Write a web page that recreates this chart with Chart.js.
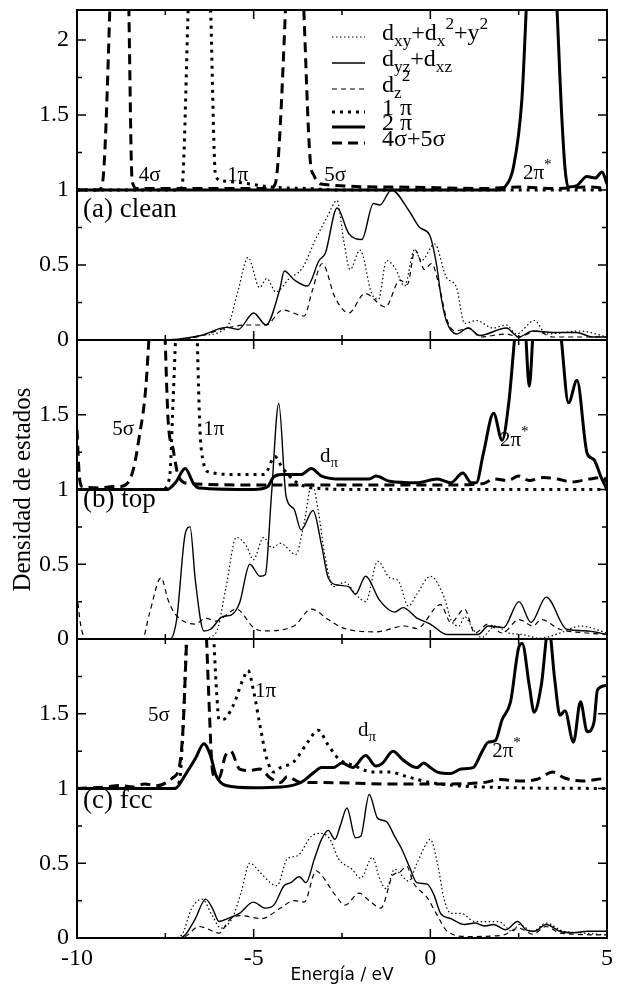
<!DOCTYPE html>
<html>
<head>
<meta charset="utf-8">
<script src="https://cdn.jsdelivr.net/npm/chart.js@4.4.1/dist/chart.umd.min.js"></script>
<style>
  html, body { margin: 0; padding: 0; background: #fff; }
  #wrap { position: relative; width: 617px; height: 988px; }
  #wrap canvas { position: absolute; left: 0; top: 0; }
</style>
</head>
<body>
<div id="wrap">
  <canvas id="pA" width="617" height="988"></canvas>
  <canvas id="pB" width="617" height="988"></canvas>
  <canvas id="pC" width="617" height="988"></canvas>
</div>
<script>
// tick labels
const energyTicks = [-10, -5, 0, 5];
const dosTicksTop = [0, 0.5, 1, 1.5, 2];
const dosTicks = [0, 0.5, 1, 1.5];

// (a) clean -- d states of the metal atom  [energy eV, DOS]
const cleanDxy = [[-10,0],[-7.5,0],[-7.0,0.005],[-6.5,0.03],[-5.76,0.084],[-5.44,0.33],[-5.16,0.55],[-4.83,0.35],[-4.63,0.41],[-4.37,0.32],[-3.99,0.41],[-3.62,0.48],[-3.25,0.67],[-2.92,0.82],[-2.64,0.93],[-2.45,0.66],[-2.27,0.47],[-1.99,0.6],[-1.66,0.31],[-1.47,0.27],[-1.24,0.53],[-1.0,0.48],[-0.73,0.36],[-0.45,0.6],[-0.25,0.53],[0.12,0.64],[0.45,0.42],[0.74,0.35],[0.97,0.11],[1.3,0.13],[1.77,0.08],[2.15,0.1],[2.43,0.04],[2.95,0.13],[3.28,0.04],[4.23,0.06],[5,0.02]];
const cleanDyz = [[-10,0],[-7.5,0],[-7.0,0.01],[-6.5,0.03],[-5.76,0.084],[-5.44,0.07],[-5.0,0.18],[-4.65,0.1],[-4.27,0.33],[-4.13,0.46],[-3.85,0.4],[-3.48,0.36],[-3.15,0.53],[-2.97,0.58],[-2.64,0.88],[-2.31,0.71],[-1.94,0.67],[-1.61,0.91],[-1.43,0.9],[-1.1,1.0],[-0.6,0.86],[-0.3,0.75],[-0.02,0.7],[0.17,0.51],[0.31,0.28],[0.45,0.13],[0.74,0.04],[1.07,0.08],[1.4,0.03],[2.15,0.08],[2.5,0.02],[2.9,0.06],[3.47,0.05],[4.13,0.05],[4.6,0.02],[5,0.02]];
const cleanDz2 = [[-10,0],[-7.5,0],[-6.8,0.01],[-5.76,0.08],[-5.2,0.1],[-4.65,0.1],[-4.18,0.2],[-3.57,0.16],[-3.34,0.33],[-3.06,0.51],[-2.69,0.28],[-2.31,0.18],[-1.85,0.31],[-1.27,0.22],[-0.86,0.4],[-0.65,0.37],[-0.43,0.6],[-0.16,0.47],[0.03,0.51],[0.26,0.35],[0.45,0.15],[0.69,0.06],[1.11,0.08],[1.4,0.02],[2.15,0.04],[2.5,0.02],[3.0,0.06],[3.47,0.02],[5,0.02]];
// (a) clean -- CO orbitals, drawn on the +1 baseline
const clean1pi = [[-10,1],[-7.15,1],[-7.03,1.02],[-6.84,2.3],[-6.55,4.0],[-6.23,2.3],[-6.08,1.1],[-5.9,1.06],[-5.4,1.05],[-4.5,1.02],[-3.5,1.01],[-2.5,1.0],[5,1.0]];
const clean2pi = [[-10,1],[2.0,1.0],[2.11,1.02],[2.35,1.15],[2.59,1.6],[2.8,2.6],[3.15,3.2],[3.5,2.6],[3.72,1.49],[3.81,1.15],[3.9,1.02],[4.15,1.03],[4.43,1.09],[4.67,1.08],[4.86,1.12],[5.0,1.04]];
const clean4s5s = [[-10,1],[-9.4,1.0],[-9.29,1.03],[-9.06,2.3],[-8.8,5],[-8.54,2.3],[-8.44,1.06],[-8.3,1.01],[-4.55,1.01],[-4.39,1.04],[-4.1,2.2],[-3.85,4],[-3.58,2.2],[-3.4,1.2],[-3.3,1.1],[-3.1,1.04],[-1.0,1.02],[1.5,1.01],[2.5,1.02],[3.5,1.01],[4.5,1.02],[5,1.01]];

// (b) top
const topDxy = [[-10,0],[-6.5,0],[-6.07,0.04],[-5.78,0.35],[-5.49,0.68],[-5.2,0.62],[-5.01,0.53],[-4.72,0.68],[-4.48,0.61],[-4.24,0.64],[-3.81,0.565],[-3.57,0.78],[-3.35,1.04],[-3.18,0.87],[-2.99,0.565],[-2.75,0.35],[-2.41,0.38],[-2.12,0.3],[-1.83,0.25],[-1.49,0.52],[-1.15,0.41],[-0.91,0.39],[-0.62,0.22],[-0.38,0.3],[0.0,0.42],[0.39,0.28],[0.58,0.13],[0.82,0.087],[0.97,0.15],[1.21,0.065],[1.45,0.01],[1.84,0.087],[2.22,0.04],[2.61,0.03],[3.1,0.005],[3.67,0.04],[4.25,0.087],[5,0.04]];
const topDyz = [[-10,0],[-7.37,0],[-7.18,0.13],[-6.94,0.7],[-6.8,0.75],[-6.65,0.39],[-6.41,0.054],[-6.22,0.065],[-5.88,0.15],[-5.64,0.16],[-5.4,0.24],[-5.11,0.5],[-4.82,0.42],[-4.67,0.43],[-4.5,0.95],[-4.29,1.575],[-4.08,0.95],[-3.86,0.87],[-3.66,0.73],[-3.32,0.86],[-3.08,0.63],[-2.89,0.41],[-2.6,0.36],[-2.31,0.35],[-2.12,0.3],[-1.83,0.42],[-1.44,0.26],[-1.01,0.18],[-0.77,0.21],[-0.38,0.14],[0.0,0.1],[0.48,0.03],[1.35,0.03],[1.64,0.087],[2.07,0.076],[2.51,0.25],[2.85,0.11],[3.28,0.28],[3.86,0.065],[4.44,0.054],[5,0.03]];
const topDz2 = [[-10,0.3],[-9.9,0.1],[-9.75,0],[-8.15,0],[-7.95,0.17],[-7.62,0.41],[-7.42,0.26],[-7.23,0.17],[-6.65,0.1],[-6.36,0.14],[-6.07,0.12],[-5.49,0.2],[-5.0,0.076],[-4.72,0.054],[-3.86,0.087],[-3.37,0.2],[-2.89,0.13],[-2.5,0.076],[-1.54,0.048],[-0.72,0.087],[-0.38,0.07],[0.29,0.23],[0.58,0.11],[0.97,0.2],[1.26,0.04],[1.64,0.1],[2.03,0.04],[2.51,0.13],[2.9,0.087],[3.14,0.13],[3.67,0.065],[4.44,0.04],[5,0.03]];
const top1pi = [[-10,1],[-7.6,1.0],[-7.38,1.08],[-7.28,1.6],[-7.18,2.2],[-6.9,4],[-6.62,2.2],[-6.52,1.4],[-6.42,1.18],[-6.3,1.12],[-5.5,1.1],[-4.7,1.1],[-4.4,1.22],[-4.2,1.15],[-3.8,1.05],[-3.3,1.01],[-2,1.0],[5,1.0]];
const top2pi = [[-10,1.0],[-7.45,1.0],[-7.2,1.05],[-6.94,1.14],[-6.7,1.04],[-6.55,1.01],[-5,1.0],[-4.6,1.02],[-4.45,1.08],[-4.2,1.1],[-3.66,1.1],[-3.37,1.14],[-3.08,1.09],[-2.5,1.07],[-1.73,1.07],[-1.54,1.09],[-1.15,1.055],[-0.38,1.045],[0.2,1.07],[0.58,1.045],[0.92,1.11],[1.16,1.045],[1.3,1.045],[1.5,1.24],[1.79,1.51],[2.03,1.33],[2.22,1.58],[2.37,1.97],[2.5,2.3],[2.68,2.1],[2.8,1.69],[2.92,2.1],[3.2,2.8],[3.5,2.5],[3.71,2.0],[3.91,1.58],[4.15,1.73],[4.44,1.24],[4.63,1.2],[4.82,1.09],[5,1.0]];
const top4s5s = [[-10,1.4],[-9.93,1.08],[-9.85,1.02],[-9.3,1.01],[-9.0,1.02],[-8.8,1.02],[-8.58,1.04],[-8.4,1.14],[-8.24,1.35],[-8.05,1.69],[-7.9,2.3],[-7.75,3],[-7.55,2.3],[-7.42,1.46],[-7.28,1.27],[-7.13,1.09],[-6.84,1.04],[-4.6,1.03],[-3,1.03],[-1,1.03],[0.5,1.03],[1.5,1.04],[1.8,1.07],[2.2,1.06],[2.5,1.09],[2.8,1.06],[3.2,1.08],[3.6,1.07],[4.0,1.05],[4.5,1.07],[4.9,1.08],[5,1.05]];

// (c) fcc
const fccDxy = [[-10,0],[-7.3,0],[-7.04,0.02],[-6.75,0.2],[-6.46,0.26],[-6.17,0.15],[-5.93,0.066],[-5.59,0.14],[-5.35,0.31],[-5.11,0.5],[-4.82,0.44],[-4.53,0.37],[-4.34,0.35],[-4.05,0.53],[-3.76,0.55],[-3.37,0.68],[-3.08,0.7],[-2.84,0.66],[-2.6,0.53],[-2.22,0.46],[-1.97,0.4],[-1.64,0.54],[-1.44,0.4],[-1.25,0.33],[-1.01,0.46],[-0.82,0.42],[-0.62,0.38],[-0.38,0.5],[-0.09,0.64],[0,0.66],[0.2,0.5],[0.39,0.26],[0.58,0.165],[0.87,0.165],[1.26,0.11],[1.55,0.11],[1.93,0.11],[2.32,0.045],[2.51,0.09],[2.9,0.045],[3.28,0.1],[3.76,0.045],[4.25,0.035],[5,0.02]];
const fccDyz = [[-10,0],[-7.5,0],[-7.13,0],[-6.94,0.02],[-6.65,0.13],[-6.36,0.26],[-6.17,0.2],[-5.98,0.11],[-5.74,0.13],[-5.4,0.165],[-5.01,0.24],[-4.67,0.2],[-4.43,0.22],[-4.14,0.35],[-3.95,0.37],[-3.71,0.41],[-3.52,0.37],[-3.28,0.53],[-3.08,0.66],[-2.89,0.72],[-2.7,0.66],[-2.55,0.75],[-2.36,0.87],[-2.12,0.67],[-1.97,0.68],[-1.73,0.96],[-1.49,0.8],[-1.25,0.78],[-1.01,0.68],[-0.82,0.6],[-0.58,0.47],[-0.38,0.37],[-0.09,0.36],[0.1,0.29],[0.29,0.165],[0.58,0.13],[0.97,0.09],[1.26,0.1],[1.55,0.08],[1.79,0.09],[2.13,0.055],[2.47,0.11],[2.71,0.055],[2.94,0.045],[3.28,0.09],[3.67,0.045],[4.05,0.035],[4.44,0.045],[5,0.045]];
const fccDz2 = [[-10,0],[-7.3,0],[-6.94,0.01],[-6.55,0.077],[-6.36,0.066],[-5.98,0.033],[-5.69,0.12],[-5.4,0.15],[-4.77,0.13],[-4.24,0.2],[-3.86,0.25],[-3.57,0.24],[-3.23,0.45],[-3.08,0.42],[-2.7,0.29],[-2.41,0.22],[-2.02,0.3],[-1.73,0.25],[-1.4,0.2],[-1.06,0.42],[-0.87,0.44],[-0.67,0.48],[-0.48,0.37],[-0.09,0.27],[0.2,0.15],[0.48,0.044],[1.06,0.01],[2.03,0.018],[2.51,0.066],[2.9,0.026],[3.28,0.077],[3.67,0.033],[5,0.02]];
const fcc1pi = [[-10,1],[-7.3,1.0],[-7.1,1.05],[-7.0,1.4],[-6.88,2.1],[-6.5,3.5],[-6.15,2.1],[-6.05,1.65],[-5.98,1.46],[-5.88,1.46],[-5.59,1.55],[-5.3,1.73],[-5.16,1.79],[-5.01,1.66],[-4.82,1.42],[-4.63,1.2],[-4.43,1.11],[-4.24,1.14],[-3.86,1.18],[-3.47,1.31],[-3.18,1.39],[-2.89,1.29],[-2.6,1.2],[-2.12,1.15],[-1.64,1.11],[-1.15,1.11],[-0.67,1.08],[0,1.04],[1.5,1.01],[5,1.0]];
const fcc2pi = [[-10,1.0],[-7.23,1.0],[-6.94,1.09],[-6.65,1.2],[-6.41,1.3],[-6.22,1.22],[-6.07,1.09],[-5.78,1.02],[-5.01,1.005],[-4.24,1.01],[-3.66,1.04],[-3.28,1.11],[-3.08,1.14],[-2.75,1.14],[-2.5,1.17],[-2.2,1.14],[-1.83,1.22],[-1.54,1.15],[-1.35,1.17],[-1.06,1.25],[-0.77,1.19],[-0.38,1.14],[-0.19,1.17],[0,1.14],[0.2,1.11],[0.58,1.1],[0.87,1.13],[1.21,1.14],[1.45,1.24],[1.64,1.31],[1.84,1.32],[2.03,1.46],[2.27,1.58],[2.51,1.95],[2.6,1.97],[2.8,1.69],[2.94,1.51],[3.14,1.69],[3.35,2.08],[3.52,1.73],[3.67,1.49],[3.81,1.52],[4.05,1.31],[4.25,1.58],[4.44,1.38],[4.63,1.44],[4.73,1.66],[5,1.69]];
const fcc4s5s = [[-10,1.0],[-9.2,1.01],[-8.8,1.02],[-8.4,1.01],[-8.1,1.03],[-7.7,1.02],[-7.47,1.04],[-7.3,1.07],[-7.1,1.15],[-7.0,1.4],[-6.88,2.1],[-6.6,3.5],[-6.35,2.1],[-6.25,1.5],[-6.18,1.15],[-6.1,1.08],[-5.98,1.07],[-5.8,1.22],[-5.65,1.25],[-5.4,1.13],[-5.11,1.12],[-4.82,1.13],[-4.53,1.07],[-4.24,1.04],[-4.05,1.08],[-3.66,1.04],[-3.08,1.04],[-1,1.03],[0.5,1.03],[1.5,1.04],[2.0,1.06],[2.5,1.05],[3.0,1.06],[3.47,1.11],[3.8,1.07],[4.3,1.05],[4.7,1.06],[5,1.07]];

const serif = '"Liberation Serif", "Times New Roman", serif';

// line look of each kind of curve
const styles = {
    dxy: { borderWidth: 1.2, borderDash: [1.5, 2.5] },
    dyz: { borderWidth: 1.4, borderDash: [] },
    dz2: { borderWidth: 1.2, borderDash: [5, 4] },
    pi1: { borderWidth: 3, borderDash: [3, 5] },
    pi2: { borderWidth: 3, borderDash: [] },
    sig: { borderWidth: 3, borderDash: [10, 6] }
};

const legendRows = [
    { key: 'dxy', parts: [['d'], ['xy', 'sub'], ['+d'], ['x', 'sub'], ['2', 'sup'], ['+y'], ['2', 'sup']] },
    { key: 'dyz', parts: [['d'], ['yz', 'sub'], ['+d'], ['xz', 'sub']] },
    { key: 'dz2', parts: [['d'], ['z', 'sub'], ['2', 'sup']] },
    { key: 'pi1', parts: [['1 π']] },
    { key: 'pi2', parts: [['2 π']] },
    { key: 'sig', parts: [['4σ+5σ']] }
];
const legendY = [37, 63, 89, 112, 127, 143];

function line(arr, st) {
    return Object.assign({
        data: arr.map(p => ({ x: p[0], y: p[1] })),
        borderColor: '#000',
        pointRadius: 0,
        fill: false,
        cubicInterpolationMode: 'monotone',
        borderCapStyle: 'butt',
        borderJoinStyle: 'round'
    }, st);
}

// text with sub/superscripts, parts = [[text, 'sub'|'sup'|undefined], ...]
function richText(ctx, parts, x, y, size) {
    let cx = x;
    parts.forEach(p => {
        const s = p[1] ? size * 0.72 : size;
        ctx.font = s + 'px ' + serif;
        const dy = p[1] === 'sub' ? size * 0.32 : p[1] === 'sup' ? -size * 0.38 : 0;
        ctx.fillText(p[0], cx, y + dy);
        cx += ctx.measureText(p[0]).width;
    });
}

function drawLegend(ctx, a) {
    legendRows.forEach((row, i) => {
        const st = styles[row.key];
        const y = legendY[i];
        ctx.save();
        ctx.lineWidth = st.borderWidth;
        ctx.setLineDash(st.borderDash);
        ctx.beginPath();
        ctx.moveTo(a.left + 255, y);
        ctx.lineTo(a.left + 288, y);
        ctx.stroke();
        ctx.restore();
        richText(ctx, row.parts, a.left + 305, y - 3, 24);
    });
}

function panelDecor(panel) {
    return {
        id: 'panelDecor',
        afterDraw(chart) {
            const { ctx, chartArea: a, scales: { x, y } } = chart;
            ctx.save();
            ctx.strokeStyle = '#000';
            ctx.fillStyle = '#000';
            ctx.setLineDash([]);
            // inward ticks on all four sides
            ctx.lineWidth = 1.5;
            ctx.beginPath();
            x.ticks.forEach(t => {
                const px = x.getPixelForValue(t.value);
                const len = t.value % 5 === 0 ? 9 : 5;
                ctx.moveTo(px, a.bottom); ctx.lineTo(px, a.bottom - len);
                ctx.moveTo(px, a.top); ctx.lineTo(px, a.top + len);
            });
            y.ticks.forEach(t => {
                if (Math.abs(t.value * 4 - Math.round(t.value * 4)) > 1e-6) return;
                const py = y.getPixelForValue(t.value);
                const len = Math.abs(t.value * 2 - Math.round(t.value * 2)) < 1e-6 ? 9 : 5;
                ctx.moveTo(a.left, py); ctx.lineTo(a.left + len, py);
                ctx.moveTo(a.right, py); ctx.lineTo(a.right - len, py);
            });
            ctx.stroke();
            ctx.lineWidth = 2;
            ctx.strokeRect(a.left, a.top, a.right - a.left, a.bottom - a.top);

            ctx.textAlign = 'left';
            ctx.textBaseline = 'middle';
            richText(ctx, [[panel.name]], a.left + 6, y.getPixelForValue(panel.nameY), 27);
            panel.notes.forEach(n => {
                richText(ctx, n.parts, x.getPixelForValue(n.at[0]), y.getPixelForValue(n.at[1]), 21);
            });
            if (panel.legend) drawLegend(ctx, a);
            ctx.restore();
        }
    };
}

function makeChart(id, panel) {
    return new Chart(document.getElementById(id), {
        type: 'line',
        data: { datasets: panel.series.map(s => line(s[0], styles[s[1]])) },
        options: {
            responsive: false,
            animation: false,
            events: [],
            layout: { padding: { top: panel.top, bottom: panel.bottom, left: 0, right: 10 } },
            plugins: { legend: { display: false }, tooltip: { enabled: false } },
            scales: {
                x: {
                    type: 'linear', min: -10, max: 5,
                    display: panel.showX,
                    grid: { display: false, drawTicks: false },
                    border: { display: false },
                    ticks: {
                        stepSize: 2.5, padding: 6, autoSkip: false, maxRotation: 0, color: '#000',
                        font: { family: serif, size: 24 },
                        callback: v => energyTicks.includes(v) ? String(v) : ''
                    },
                    title: {
                        display: panel.showX, text: 'Energía / eV', color: '#000',
                        font: { family: 'DejaVu Sans', size: 17 },
                        padding: { top: 0, bottom: 2 }
                    },
                    afterFit: s => { s.height = panel.showX ? 50 : 0; s.paddingLeft = 0; s.paddingRight = 0; }
                },
                y: {
                    type: 'linear', min: 0, max: panel.yMax,
                    grid: { display: false, drawTicks: false },
                    border: { display: false },
                    ticks: {
                        stepSize: 0.25, includeBounds: false, padding: 8, autoSkip: false, color: '#000',
                        font: { family: serif, size: 24 },
                        callback: v => panel.yLabels.includes(v) ? String(v) : ''
                    },
                    title: {
                        display: !!panel.yTitle, text: panel.yTitle || '', color: '#000',
                        font: { family: serif, size: 25 },
                        padding: { top: 8, bottom: 0 }
                    },
                    afterFit: s => { s.width = 77; s.paddingTop = 0; s.paddingBottom = 0; }
                }
            }
        },
        plugins: [panelDecor(panel)]
    });
}

makeChart('pA', {
    top: 10, bottom: 648, showX: false, yMax: 2.2, yLabels: dosTicksTop,
    name: '(a) clean', nameY: 0.87, legend: true,
    series: [[cleanDxy, 'dxy'], [cleanDyz, 'dyz'], [cleanDz2, 'dz2'], [clean1pi, 'pi1'], [clean2pi, 'pi2'], [clean4s5s, 'sig']],
    notes: [
        { parts: [['4σ']], at: [-8.25, 1.1] },
        { parts: [['1π']], at: [-5.75, 1.1] },
        { parts: [['5σ']], at: [-3.0, 1.1] },
        { parts: [['2π'], ['*', 'sup']], at: [2.62, 1.11] }
    ]
});

makeChart('pB', {
    top: 340, bottom: 349, showX: false, yMax: 2, yLabels: dosTicks,
    name: '(b) top', nameY: 0.93, yTitle: 'Densidad de estados',
    series: [[topDxy, 'dxy'], [topDyz, 'dyz'], [topDz2, 'dz2'], [top1pi, 'pi1'], [top2pi, 'pi2'], [top4s5s, 'sig']],
    notes: [
        { parts: [['5σ']], at: [-9.0, 1.40] },
        { parts: [['1π']], at: [-6.43, 1.40] },
        { parts: [['d'], ['π', 'sub']], at: [-3.12, 1.22] },
        { parts: [['2π'], ['*', 'sup']], at: [1.97, 1.33] }
    ]
});

makeChart('pC', {
    top: 639, bottom: 0, showX: true, yMax: 2, yLabels: dosTicks,
    name: '(c) fcc', nameY: 0.92,
    series: [[fccDxy, 'dxy'], [fccDyz, 'dyz'], [fccDz2, 'dz2'], [fcc1pi, 'pi1'], [fcc2pi, 'pi2'], [fcc4s5s, 'sig']],
    notes: [
        { parts: [['5σ']], at: [-7.99, 1.49] },
        { parts: [['1π']], at: [-4.96, 1.65] },
        { parts: [['d'], ['π', 'sub']], at: [-2.05, 1.39] },
        { parts: [['2π'], ['*', 'sup']], at: [1.75, 1.25] }
    ]
});
</script>
</body>
</html>
